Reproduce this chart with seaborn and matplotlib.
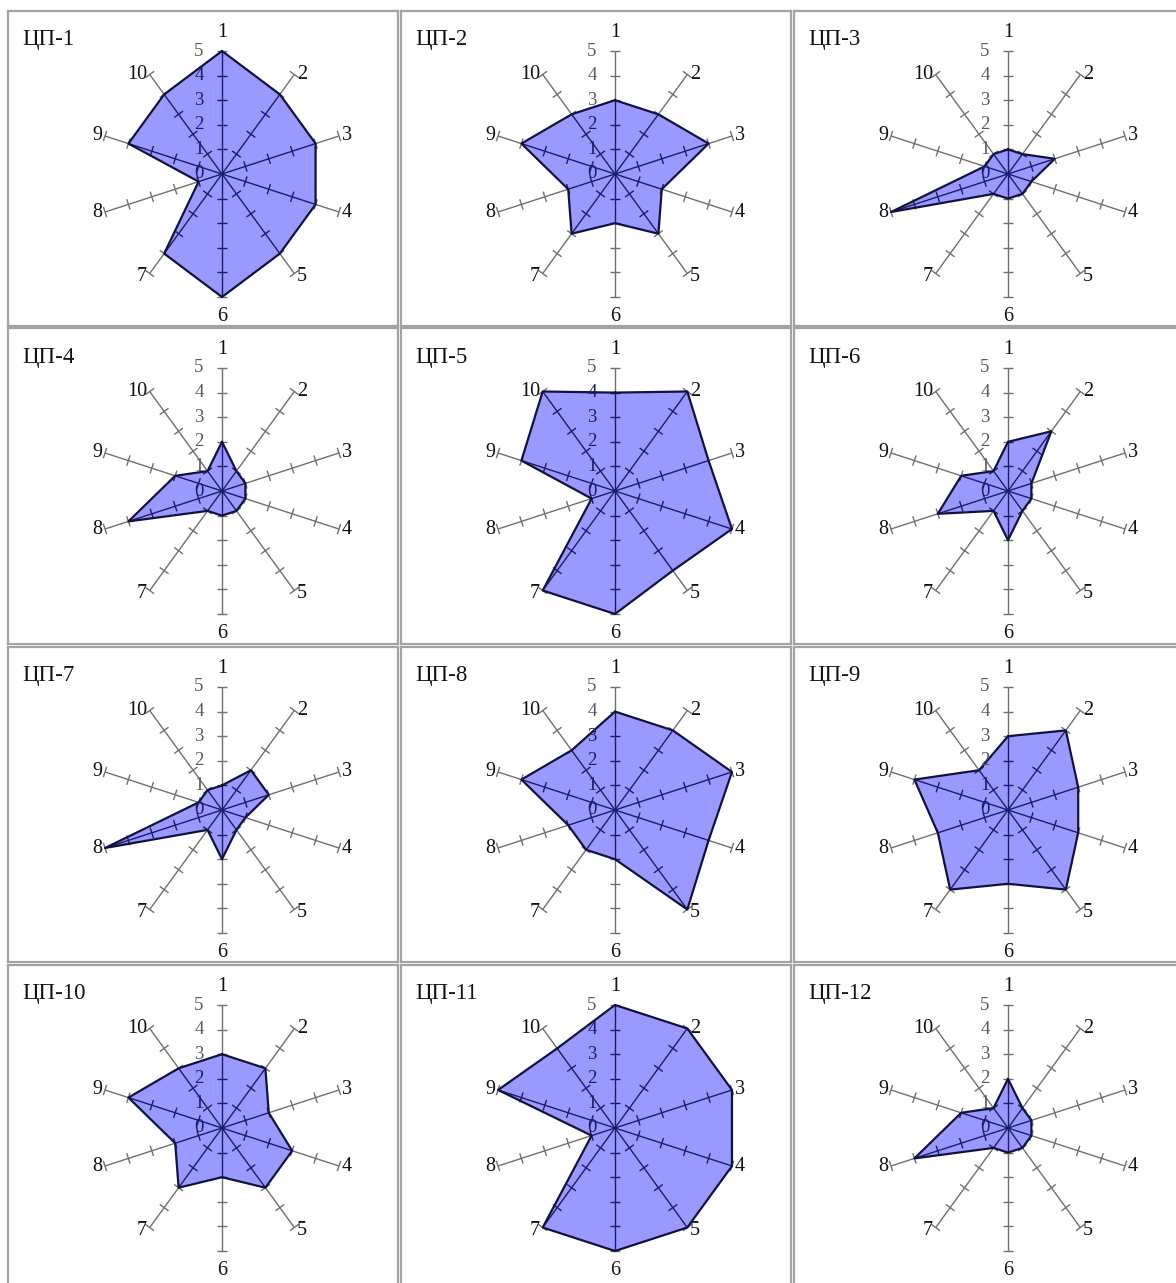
import numpy as np
import matplotlib
matplotlib.use("Agg")
import matplotlib.pyplot as plt
import seaborn as sns
import pandas as pd
from matplotlib.patches import Polygon
from matplotlib.collections import LineCollection
from matplotlib.path import Path

# ---------------- data ----------------
panel_titles = ["ЦП-1", "ЦП-2", "ЦП-3", "ЦП-4", "ЦП-5", "ЦП-6",
                "ЦП-7", "ЦП-8", "ЦП-9", "ЦП-10", "ЦП-11", "ЦП-12"]
axis_labels = ["1", "2", "3", "4", "5", "6", "7", "8", "9", "10"]
tick_values = [0, 1, 2, 3, 4, 5]
tick_labels = ["0", "1", "2", "3", "4", "5"]

cp1 = [5, 4, 4, 4, 4, 5, 4, 1, 4, 4]
cp2 = [3, 3, 4, 2, 3, 2, 3, 2, 4, 3]
cp3 = [1, 1, 2, 1, 1, 1, 1, 5, 1, 1]
cp4 = [2, 1, 1, 1, 1, 1, 1, 4, 2, 1]
cp5 = [4, 5, 4, 5, 4, 5, 5, 1, 4, 5]
cp6 = [2, 3, 1, 1, 1, 2, 1, 3, 2, 1]
cp7 = [1, 2, 2, 1, 1, 2, 1, 5, 1, 1]
cp8 = [4, 4, 5, 4, 5, 2, 2, 2, 4, 3]
cp9 = [3, 4, 3, 3, 4, 3, 4, 3, 4, 2]
cp10 = [3, 3, 2, 3, 3, 2, 3, 2, 4, 3]
cp11 = [5, 5, 5, 5, 5, 5, 5, 1, 5, 4]
cp12 = [2, 1, 1, 1, 1, 1, 1, 4, 2, 1]
series = [cp1, cp2, cp3, cp4, cp5, cp6, cp7, cp8, cp9, cp10, cp11, cp12]

# ---------------- style ----------------
sns.set_theme(style="white")
plt.rcParams["font.family"] = ["Liberation Serif", "DejaVu Serif"]

FILL = "#9999ff"
EDGE = "#12123f"
SPOKE = "#707070"
SPOKE_IN = "#1c1c6a"
FRAME = "#a3a3a3"
TICK_TXT = "#5a5a5a"

W, H, DPI = 1176, 1283, 100
fig = plt.figure(figsize=(W / DPI, H / DPI), dpi=DPI)
fig.patch.set_facecolor("white")

col_x = [8, 401, 794]
row_y = [11, 328, 647, 965]
col_w = [390, 390, 400]
row_h = [315, 316, 315, 330]
cx_rel, cy_rel = 214, 163     # chart centre inside panel (px)
ppu = 24.6                    # pixels per value unit
RMAX = 5
TICK_HALF = 0.22

n = len(axis_labels)
theta = np.deg2rad(90 - 36 * np.arange(n))
ux, uy = np.cos(theta), np.sin(theta)

for i, vals in enumerate(series):
    r, c = divmod(i, 3)
    x0, y0, w, h = col_x[c], row_y[r], col_w[c], row_h[r]
    ax = fig.add_axes([x0 / W, 1 - (y0 + h) / H, w / W, h / H])
    ax.set_xlim(-cx_rel / ppu, (w - cx_rel) / ppu)
    ax.set_ylim(-(h - cy_rel) / ppu, cy_rel / ppu)
    ax.set_xticks([])
    ax.set_yticks([])
    ax.set_facecolor("white")
    for sp in ax.spines.values():
        sp.set_visible(True)
        sp.set_color(FRAME)
        sp.set_linewidth(1.6)

    # spokes and tick marks
    segs = []
    for k in range(n):
        segs.append([(0, 0), (RMAX * ux[k], RMAX * uy[k])])
        for t in tick_values[1:]:
            px, py = t * ux[k], t * uy[k]
            dx, dy = -uy[k] * TICK_HALF, ux[k] * TICK_HALF
            segs.append([(px - dx, py - dy), (px + dx, py + dy)])
    ax.add_collection(LineCollection(segs, colors=SPOKE, linewidths=1.0, zorder=1))

    # polygon
    v = np.asarray(vals, dtype=float)
    xs, ys = v * ux, v * uy
    verts = np.column_stack([xs, ys])
    poly = Polygon(verts, closed=True, facecolor=FILL, edgecolor="none", zorder=2)
    ax.add_patch(poly)
    lc_in = LineCollection(segs, colors=SPOKE_IN, linewidths=1.0, zorder=3)
    ax.add_collection(lc_in)
    lc_in.set_clip_path(poly)

    df = pd.DataFrame({"x": np.append(xs, xs[0]), "y": np.append(ys, ys[0])})
    sns.lineplot(data=df, x="x", y="y", sort=False, estimator=None, color=EDGE,
                 linewidth=1.6, ax=ax, zorder=4)
    ax.set_xlabel("")
    ax.set_ylabel("")

    # value tick labels along axis 1
    ppath = Path(np.vstack([verts, verts[:1]]), closed=True)
    for t, lab in zip(tick_values, tick_labels):
        inside = ppath.contains_point((-0.95, t))
        ax.text(-0.75, t, lab, ha="right", va="center", fontsize=13.5,
                color=SPOKE_IN if inside else TICK_TXT, zorder=5)

    # category labels
    for k, lab in enumerate(axis_labels):
        ex, ey = RMAX * ux[k], RMAX * uy[k]
        if k == 0:
            off, ha = (0, 13), "center"
        elif k == 5:
            off, ha = (0, -14), "center"
        elif k < 5:
            off, ha = (2.0, -2.5 if k == 4 else 0), "left"
        else:
            off, ha = (-2.0, -2.5 if k == 6 else 0), "right"
        ax.annotate(lab, (ex, ey), xytext=off, textcoords="offset points",
                    ha=ha, va="center", fontsize=14.5, color="#111111", zorder=5)

    ax.text(14 / w, 1 - 29 / h, panel_titles[i], transform=ax.transAxes,
            ha="left", va="center", fontsize=16.5, color="#111111")

fig.savefig("out.png", dpi=DPI, facecolor="white")
